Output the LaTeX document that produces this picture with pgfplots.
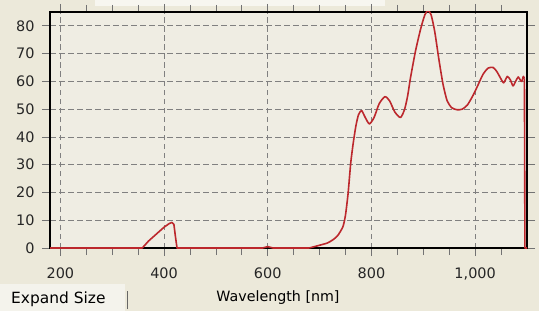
\documentclass[border=0pt]{standalone}
\usepackage{pgfplots}
\pgfplotsset{compat=1.18}
\usepackage{fontspec}
\setmainfont{DejaVu Sans}
\definecolor{bgc}{RGB}{236,233,218}
\definecolor{plotbg}{RGB}{239,237,227}
\definecolor{btn}{RGB}{244,243,236}
\definecolor{curve}{RGB}{188,40,45}
\begin{document}
\begin{tikzpicture}[x=1bp,y=1bp]
\fill[bgc] (0,0) rectangle (539,311);
\fill[white!60!bgc] (95,305) rectangle (385,311);
\fill[btn] (0,0) rectangle (125,27);
\draw[black!60, line width=1bp] (127,2) -- (127,20);
\node[anchor=west, inner sep=0pt, font=\fontsize{15.5}{17}\selectfont] at (11,12) {Expand Size};
\node[font=\fontsize{14.3}{16}\selectfont] at (278,13) {Wavelength [nm]};
\begin{axis}[
  at={(50bp,63bp)}, anchor=south west,
  scale only axis, width=477bp, height=236bp,
  xmin=180, xmax=1100, ymin=0, ymax=85,
  xtick={200,400,600,800,1000},
  minor xtick={250,300,350,450,500,550,650,700,750,850,900,950,1050},
  ytick={0,10,...,80},
  tick align=outside,
  major tick length=8bp, minor tick length=7bp,
  every tick/.style={black!55, line width=0.8bp},
  axis line style={line width=1.6bp, black},
  axis background/.style={fill=plotbg},
  xmajorgrids, ymajorgrids,
  major grid style={black!50, line width=0.8bp, dash pattern=on 5.5bp off 3.5bp},
  ticklabel style={font=\fontsize{14.5}{16}\selectfont, text=black!85},
  /pgf/number format/assume math mode=true,
  /pgf/number format/1000 sep={,},
  scaled x ticks=false,
  xticklabel style={yshift=-8bp},
  yticklabel style={xshift=-4bp},
  clip=true,
]
\addplot[curve, line width=1.6bp, line join=round] coordinates {
(180,0)(358,0)(370,2.5)(385,5)(400,7.5)(410,8.8)(415,9.2)(419,8.5)(422,4)(425,0)
(590,0)(600,0.5)(610,0)(680,0)
};
\addplot[curve, line width=1.6bp, line join=round, smooth, tension=0.4] coordinates {
(680,0)(690,0.5)(700,1)(715,1.8)(726,3)(735,4.5)(745,7.7)
(750,12)(755,19.8)(760,30.6)(765,38)(770,44)(775,48)(781,49.5)(788,47)(796,44.7)
(805,47)(815,52)(826,54.5)(835,53)(845,49)(856,47)(864,50)(870,55)(875,61)(885,71)
(895,79)(903,84)(909,85.5)(915,84)(922,78)(930,68)(938,59)(946,53)(955,50.5)
(965,49.8)(975,50)(985,51.5)(996,55)(1005,58.5)(1015,62.5)(1025,64.8)(1035,65)
(1042,63.5)(1048,61.5)(1055,59.5)(1062,61.8)(1068,60.5)(1073,58.4)(1078,60)
(1083,61.6)(1087,60.5)(1090,60)(1093,61.8)(1095,61)
};
\addplot[curve, line width=1.6bp, line join=round] coordinates {
(1095,61)(1096,0)(1100,0)
};
\end{axis}
\end{tikzpicture}
\end{document}
